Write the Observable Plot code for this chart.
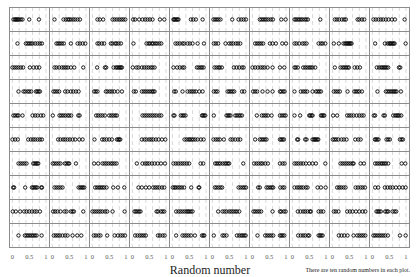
<!DOCTYPE html>
<html><head><meta charset="utf-8">
<script src="https://cdn.jsdelivr.net/npm/d3@7"></script>
<script src="https://cdn.jsdelivr.net/npm/@observablehq/plot@0.6"></script>
<style>
body{margin:0;background:#fff}
#wrap{position:relative;width:420px;height:277px;overflow:hidden;background:#fff}
#wrap svg{position:absolute;left:0;top:0}
.xl{position:absolute;left:0;width:420px;text-align:center;top:263px;font:12px "Liberation Serif",serif;line-height:14px;color:#222}
.cap{position:absolute;right:10px;top:266px;font:6px "Liberation Serif",serif;line-height:8px;color:#222;white-space:nowrap}
</style></head><body>
<div id="wrap"></div>
<script>
// ten rows of ten panels, ten random numbers per panel
const row0 = [
  [0.03,0.07,0.10,0.13,0.16,0.20,0.25,0.30,0.50,0.79],
  [0.06,0.33,0.40,0.46,0.50,0.55,0.62,0.68,0.75,0.82],
  [0.15,0.22,0.32,0.60,0.66,0.73,0.80,0.86,0.92,0.98],
  [0.02,0.08,0.20,0.30,0.38,0.45,0.52,0.60,0.82,0.95],
  [0.03,0.05,0.08,0.12,0.15,0.18,0.55,0.62,0.70,0.90],
  [0.03,0.08,0.13,0.18,0.24,0.59,0.78,0.86,0.93,1.00],
  [0.22,0.27,0.32,0.37,0.42,0.48,0.55,0.61,0.86,0.99],
  [0.06,0.10,0.15,0.20,0.25,0.30,0.36,0.41,0.46,0.83],
  [0.07,0.13,0.20,0.28,0.35,0.40,0.75,0.80,0.88,0.95],
  [0.03,0.10,0.18,0.25,0.32,0.40,0.48,0.58,0.67,0.96]
];
const row1 = [
  [0.15,0.40,0.45,0.50,0.55,0.60,0.68,0.75,0.82,0.88],
  [0.12,0.17,0.22,0.28,0.34,0.55,0.75,0.82,0.90,0.98],
  [0.15,0.20,0.28,0.35,0.55,0.60,0.68,0.72,0.78,0.85],
  [0.03,0.42,0.48,0.52,0.58,0.62,0.68,0.73,0.80,0.86],
  [0.09,0.15,0.22,0.30,0.35,0.45,0.52,0.60,0.75,0.94],
  [0.04,0.10,0.17,0.39,0.50,0.56,0.62,0.70,0.76,0.83],
  [0.08,0.14,0.20,0.26,0.32,0.52,0.60,0.70,0.89,1.00],
  [0.06,0.12,0.20,0.30,0.36,0.42,0.78,0.85,0.90,0.98],
  [0.04,0.19,0.33,0.38,0.42,0.45,0.48,0.51,0.54,0.57],
  [0.08,0.37,0.45,0.50,0.53,0.56,0.60,0.63,0.66,0.99]
];
const row2 = [
  [0.00,0.06,0.12,0.18,0.25,0.32,0.52,0.63,0.72,0.80],
  [0.06,0.12,0.20,0.28,0.34,0.40,0.46,0.55,0.65,0.92],
  [0.14,0.37,0.41,0.63,0.70,0.74,0.78,0.82,0.85,0.88],
  [0.01,0.12,0.18,0.28,0.35,0.42,0.48,0.55,0.60,0.66],
  [0.03,0.14,0.22,0.30,0.35,0.73,0.78,0.84,0.88,0.93],
  [0.06,0.12,0.18,0.22,0.28,0.64,0.72,0.80,0.88,0.93],
  [0.00,0.08,0.16,0.24,0.30,0.36,0.45,0.60,0.82,0.95],
  [0.06,0.10,0.16,0.32,0.38,0.44,0.50,0.55,0.60,0.68],
  [0.07,0.24,0.30,0.35,0.40,0.45,0.49,0.66,0.74,0.82],
  [0.13,0.20,0.26,0.30,0.34,0.38,0.42,0.47,0.79,0.83]
];
const row3 = [
  [0.18,0.33,0.38,0.45,0.50,0.56,0.70,0.74,0.78,0.82],
  [0.03,0.08,0.14,0.20,0.38,0.45,0.55,0.62,0.70,0.78],
  [0.05,0.10,0.15,0.40,0.45,0.52,0.58,0.65,0.75,0.88],
  [0.04,0.10,0.28,0.34,0.40,0.46,0.52,0.58,0.62,0.66],
  [0.05,0.10,0.30,0.45,0.52,0.58,0.64,0.70,0.80,0.90],
  [0.04,0.10,0.15,0.45,0.50,0.55,0.60,0.65,0.88,0.95],
  [0.02,0.08,0.14,0.30,0.45,0.60,0.82,0.86,0.92,0.96],
  [0.06,0.25,0.32,0.38,0.44,0.60,0.70,0.75,0.80,0.85],
  [0.04,0.10,0.16,0.22,0.45,0.65,0.70,0.75,0.80,0.88],
  [0.15,0.40,0.45,0.50,0.55,0.60,0.64,0.68,0.72,0.85]
];
const row4 = [
  [0.03,0.08,0.14,0.18,0.30,0.60,0.68,0.75,0.85,0.92],
  [0.01,0.21,0.26,0.32,0.38,0.45,0.50,0.56,0.77,0.81],
  [0.11,0.17,0.24,0.30,0.37,0.50,0.56,0.62,0.68,0.73],
  [0.30,0.36,0.42,0.48,0.54,0.60,0.66,0.72,0.80,0.86],
  [0.03,0.06,0.25,0.30,0.34,0.39,0.88,0.91,0.95,0.98],
  [0.04,0.42,0.46,0.50,0.54,0.68,0.73,0.78,0.83,0.88],
  [0.13,0.28,0.34,0.40,0.46,0.57,0.82,0.88,0.94,0.99],
  [0.06,0.23,0.50,0.53,0.57,0.60,0.85,0.88,0.92,0.95],
  [0.02,0.14,0.44,0.50,0.56,0.63,0.72,0.80,0.87,0.93],
  [0.04,0.08,0.33,0.37,0.62,0.68,0.72,0.76,0.80,0.86]
];
const row5 = [
  [0.00,0.08,0.16,0.47,0.55,0.62,0.68,0.75,0.82,0.88],
  [0.17,0.24,0.32,0.38,0.45,0.52,0.60,0.68,0.80,0.90],
  [0.06,0.29,0.35,0.42,0.50,0.58,0.73,0.77,0.80,0.83],
  [0.28,0.36,0.42,0.50,0.56,0.62,0.70,0.78,0.88,0.98],
  [0.36,0.42,0.48,0.52,0.57,0.62,0.68,0.75,0.85,0.93],
  [0.03,0.10,0.16,0.22,0.34,0.54,0.60,0.68,0.76,0.83],
  [0.08,0.22,0.27,0.32,0.37,0.42,0.82,0.86,0.90,0.94],
  [0.14,0.17,0.38,0.42,0.60,0.64,0.67,0.70,0.74,0.77],
  [0.01,0.06,0.11,0.17,0.27,0.34,0.42,0.68,0.77,0.84],
  [0.07,0.10,0.14,0.18,0.42,0.47,0.52,0.82,0.87,0.91]
];
const row6 = [
  [0.18,0.24,0.30,0.36,0.42,0.62,0.66,0.70,0.74,0.77],
  [0.01,0.06,0.12,0.18,0.24,0.37,0.42,0.47,0.50,0.70],
  [0.05,0.17,0.30,0.36,0.42,0.48,0.55,0.60,0.66,0.72],
  [0.13,0.30,0.38,0.44,0.50,0.58,0.66,0.75,0.85,0.97],
  [0.03,0.10,0.17,0.24,0.30,0.36,0.43,0.50,0.84,0.92],
  [0.08,0.13,0.18,0.23,0.30,0.36,0.41,0.46,0.50,0.92],
  [0.05,0.12,0.18,0.25,0.30,0.38,0.46,0.82,0.90,0.96],
  [0.06,0.12,0.18,0.25,0.32,0.40,0.50,0.60,0.70,0.98],
  [0.24,0.30,0.36,0.42,0.48,0.54,0.60,0.63,0.84,0.94],
  [0.08,0.14,0.20,0.26,0.30,0.35,0.40,0.47,0.87,0.98]
];
const row7 = [
  [0.02,0.05,0.38,0.58,0.62,0.66,0.70,0.74,0.86,0.88],
  [0.06,0.12,0.18,0.24,0.30,0.78,0.83,0.87,0.91,0.95],
  [0.08,0.14,0.20,0.25,0.30,0.35,0.42,0.62,0.76,0.95],
  [0.18,0.28,0.40,0.50,0.62,0.68,0.74,0.80,0.88,0.95],
  [0.01,0.06,0.10,0.16,0.22,0.28,0.35,0.56,0.78,0.80],
  [0.07,0.12,0.18,0.24,0.29,0.78,0.84,0.90,0.95,1.00],
  [0.17,0.22,0.42,0.47,0.53,0.58,0.62,0.83,0.90,0.95],
  [0.06,0.14,0.20,0.26,0.32,0.40,0.45,0.75,0.85,0.99],
  [0.14,0.20,0.26,0.33,0.39,0.69,0.76,0.84,0.90,0.97],
  [0.08,0.17,0.37,0.45,0.53,0.60,0.70,0.80,0.90,0.99]
];
const row8 = [
  [0.01,0.10,0.23,0.35,0.42,0.50,0.58,0.66,0.72,0.82],
  [0.02,0.08,0.15,0.24,0.36,0.42,0.55,0.60,0.64,0.92],
  [0.00,0.06,0.12,0.18,0.24,0.30,0.38,0.44,0.60,0.96],
  [0.06,0.10,0.15,0.20,0.24,0.72,0.76,0.85,0.90,0.95],
  [0.11,0.18,0.24,0.30,0.36,0.42,0.46,0.50,0.55,0.60],
  [0.17,0.30,0.36,0.42,0.50,0.56,0.62,0.68,0.73,0.80],
  [0.03,0.08,0.14,0.20,0.26,0.60,0.82,0.86,0.94,0.99],
  [0.16,0.24,0.32,0.38,0.45,0.52,0.55,0.78,0.85,0.92],
  [0.04,0.10,0.18,0.44,0.52,0.60,0.70,0.80,0.90,0.98],
  [0.12,0.16,0.20,0.25,0.38,0.43,0.47,0.60,0.66,0.71]
];
const row9 = [
  [0.18,0.37,0.42,0.47,0.52,0.57,0.62,0.67,0.72,0.87],
  [0.04,0.10,0.16,0.22,0.30,0.38,0.45,0.60,0.74,0.86],
  [0.04,0.10,0.18,0.24,0.44,0.66,0.76,0.84,0.90,0.97],
  [0.08,0.15,0.22,0.28,0.34,0.40,0.76,0.82,0.90,0.96],
  [0.11,0.30,0.36,0.42,0.48,0.55,0.67,0.88,0.92,0.95],
  [0.04,0.30,0.35,0.42,0.73,0.80,0.86,0.90,0.95,0.99],
  [0.15,0.38,0.44,0.50,0.56,0.62,0.82,0.86,0.90,0.95],
  [0.17,0.25,0.32,0.38,0.46,0.50,0.78,0.82,0.86,0.90],
  [0.19,0.27,0.35,0.45,0.63,0.74,0.80,0.86,0.92,0.98],
  [0.03,0.08,0.14,0.20,0.26,0.32,0.38,0.46,0.82,0.99]
];
const rows = [row0,row1,row2,row3,row4,row5,row6,row7,row8,row9];
const xTicks = [0, 0.5, 1];
const xTickLabels = ["0", "0.5", "1"];
const gridTicks = [0, 0.2, 0.4, 0.6, 0.8, 1];
const xLabel = "Random number";
const captionText = "There are ten random numbers in each plot.";

const data = [];
rows.forEach((row, r) => row.forEach((vals, c) => vals.forEach(v => data.push({row: r, col: c, v}))));

const plot = Plot.plot({
  width: 420, height: 263,
  marginTop: 4, marginBottom: 14, marginLeft: 6, marginRight: 8.4,
  style: {background: "white", fontFamily: "'Liberation Serif', serif"},
  fx: {domain: d3.range(10), padding: 0, axis: null},
  fy: {domain: d3.range(10), padding: 0, axis: null},
  x: {domain: [-0.088, 1.105]},
  marks: [
    Plot.ruleX(gridTicks, {stroke: "#cfcfcf", strokeDasharray: "4,3", strokeWidth: 0.8}),
    Plot.frame({stroke: "#8c8c8c", strokeWidth: 1}),
    Plot.dot(data, {x: "v", fx: "col", fy: "row", r: 1.7, stroke: "black", strokeWidth: 0.9}),
    Plot.axisX(xTicks, {tickSize: 0, tickPadding: 7, fontSize: 6.5, color: "#555",
      tickFormat: d => xTickLabels[xTicks.indexOf(d)], label: null})
  ]
});
const wrap = document.getElementById("wrap");
wrap.appendChild(plot);
const xl = document.createElement("div"); xl.className = "xl"; xl.textContent = xLabel; wrap.appendChild(xl);
const cap = document.createElement("div"); cap.className = "cap"; cap.textContent = captionText; wrap.appendChild(cap);
</script>
</body></html>
